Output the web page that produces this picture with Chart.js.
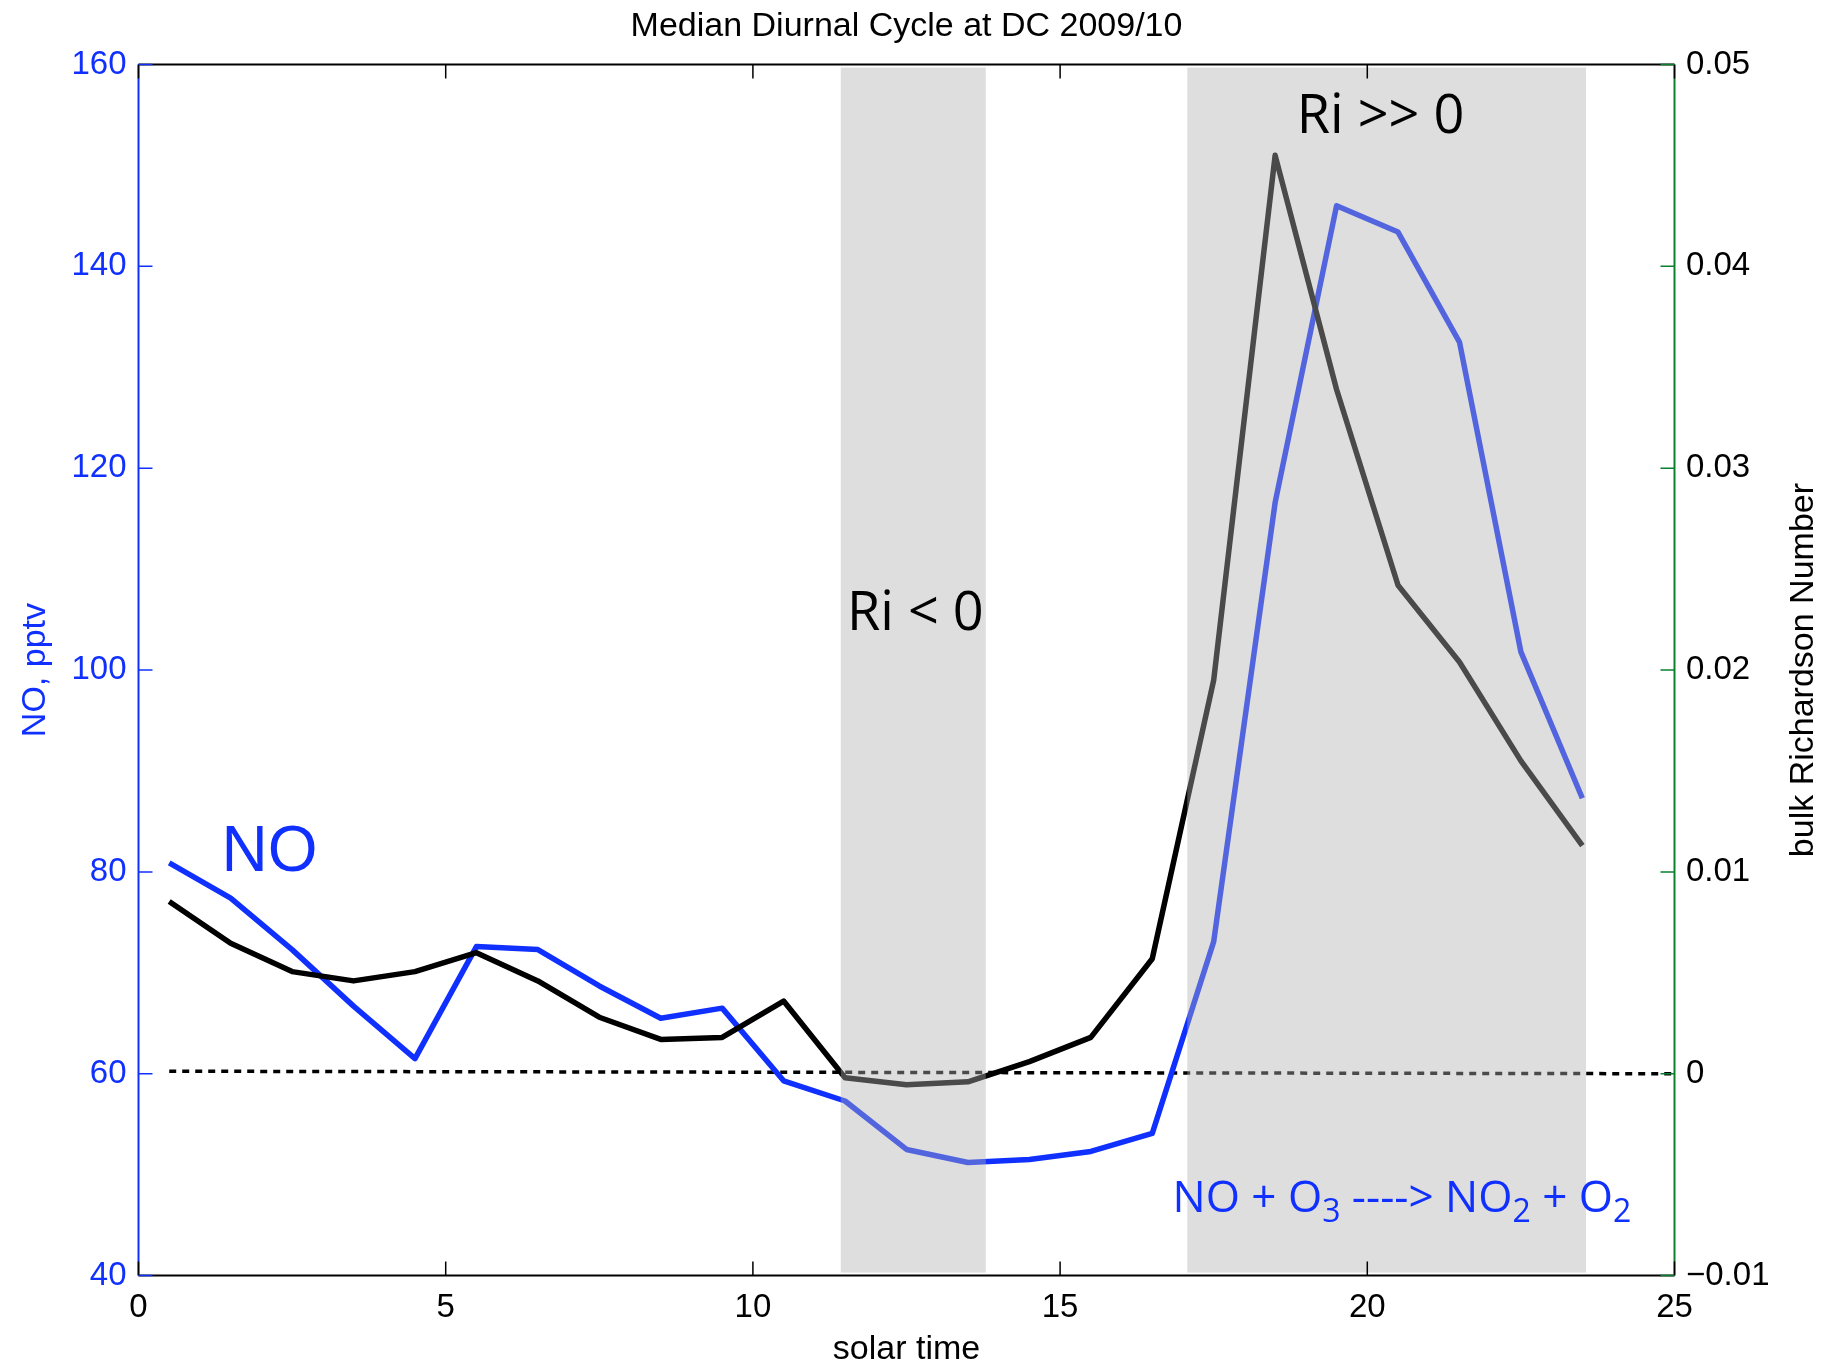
<!DOCTYPE html>
<html>
<head>
<meta charset="utf-8">
<title>Median Diurnal Cycle at DC 2009/10</title>
<script src="https://cdn.jsdelivr.net/npm/chart.js@4.4.1/dist/chart.umd.min.js"></script>
<style>
  html, body { margin: 0; padding: 0; background: #fff; }
  #wrap { width: 1840px; height: 1365px; }
</style>
</head>
<body>
<div id="wrap"><canvas id="diurnal" width="1840" height="1365"></canvas></div>
<script>
// solar hour (bin centres)
const hours = [0.5, 1.5, 2.5, 3.5, 4.5, 5.5, 6.5, 7.5, 8.5, 9.5, 10.5, 11.5,
               12.5, 13.5, 14.5, 15.5, 16.5, 17.5, 18.5, 19.5, 20.5, 21.5, 22.5, 23.5];
// median NO, pptv (left axis)
const noPptv = [80.9, 77.4, 72.3, 66.7, 61.5, 72.6, 72.3, 68.7, 65.5, 66.5, 59.3, 57.3,
                52.5, 51.2, 51.5, 52.3, 54.1, 73.1, 116.6, 146.0, 143.4, 132.5, 101.8, 87.3];
// median bulk Richardson number (right axis)
const richardson = [0.00853, 0.00647, 0.00506, 0.0046, 0.00506, 0.0060, 0.0046, 0.0028,
                    0.0017, 0.0018, 0.0036, -0.0002, -0.00055, -0.0004, 0.0006, 0.0018,
                    0.0057, 0.0195, 0.0455, 0.0339, 0.0242, 0.0204, 0.0155, 0.0113];
// Ri = 0 reference line (ends)
const zeroLineX = [0.5, 25];
const zeroLineY = [0.000125, 0];

// shaded periods (solar time) : Ri < 0 and Ri >> 0
const shadeSpans = [[11.43, 13.79], [17.07, 23.56]];

const xTicks = [0, 5, 10, 15, 20, 25];
const noTicks = [40, 60, 80, 100, 120, 140, 160];
const riTicks = [-0.01, 0, 0.01, 0.02, 0.03, 0.04, 0.05];

const BLUE = '#1030ff';
const GREEN = '#0a8030';
const SANS = "'Liberation Sans', Arial, Helvetica, sans-serif";
const HUMAN = "'Open Sans', 'Noto Sans', sans-serif";

const fmtRi = v => {
  if (Math.abs(v) < 1e-9) return '0';
  return (v < 0 ? '\u2212' : '') + Math.abs(v).toFixed(2);
};

// text labels placed in data units (x: solar time, y: NO axis)
const notes = [
  { parts: [['NO', 0]], x: 1.35, y: 80.1, size: 64, font: SANS, color: BLUE },
  { parts: [['Ri < 0', 0]], x: 11.53, y: 104.0, size: 54, font: HUMAN, color: '#000' },
  { parts: [['Ri >> 0', 0]], x: 18.85, y: 153.2, size: 54, font: HUMAN, color: '#000' },
  { parts: [['NO + O', 0], ['3', 1], [' ----> NO', 0], ['2', 1], [' + O', 0], ['2', 1]],
    x: 16.83, y: 46.3, size: 44, font: HUMAN, color: BLUE }
];

const frame = {
  id: 'frame',
  afterDatasetsDraw(chart) {
    const { ctx, chartArea: a, scales: { x, y, y1 } } = chart;
    ctx.save();

    // grey patches sit on top of the curves, as in the original
    ctx.fillStyle = 'rgba(176,176,176,0.42)';
    const yt = y.getPixelForValue(159.7), yb = y.getPixelForValue(40.3);
    shadeSpans.forEach(s => {
      const x0 = x.getPixelForValue(s[0]), x1 = x.getPixelForValue(s[1]);
      ctx.fillRect(x0, yt, x1 - x0, yb - yt);
    });

    // axis box
    ctx.lineWidth = 2;
    ctx.strokeStyle = '#000';
    ctx.beginPath();
    ctx.moveTo(a.left, a.top); ctx.lineTo(a.right, a.top);
    ctx.moveTo(a.left, a.bottom); ctx.lineTo(a.right, a.bottom);
    ctx.stroke();
    ctx.strokeStyle = BLUE;
    ctx.beginPath(); ctx.moveTo(a.left, a.top); ctx.lineTo(a.left, a.bottom); ctx.stroke();
    ctx.strokeStyle = GREEN;
    ctx.beginPath(); ctx.moveTo(a.right, a.top); ctx.lineTo(a.right, a.bottom); ctx.stroke();

    // inward ticks
    const tl = 14;
    ctx.lineWidth = 1.5;
    ctx.strokeStyle = '#000';
    ctx.beginPath();
    xTicks.forEach(t => {
      const px = x.getPixelForValue(t);
      ctx.moveTo(px, a.bottom); ctx.lineTo(px, a.bottom - tl);
      ctx.moveTo(px, a.top); ctx.lineTo(px, a.top + tl);
    });
    ctx.stroke();
    ctx.strokeStyle = BLUE;
    ctx.beginPath();
    noTicks.forEach(t => {
      const py = y.getPixelForValue(t);
      ctx.moveTo(a.left, py); ctx.lineTo(a.left + tl, py);
    });
    ctx.stroke();
    ctx.strokeStyle = GREEN;
    ctx.beginPath();
    riTicks.forEach(t => {
      const py = y1.getPixelForValue(t);
      ctx.moveTo(a.right, py); ctx.lineTo(a.right - tl, py);
    });
    ctx.stroke();

    // annotations
    ctx.textBaseline = 'alphabetic';
    ctx.textAlign = 'left';
    notes.forEach(n => {
      let px = x.getPixelForValue(n.x);
      const py = y.getPixelForValue(n.y);
      ctx.fillStyle = n.color;
      n.parts.forEach(([txt, sub]) => {
        const sz = sub ? Math.round(n.size * 0.72) : n.size;
        ctx.font = sz + 'px ' + n.font;
        ctx.fillText(txt, px, py + (sub ? n.size * 0.22 : 0));
        px += ctx.measureText(txt).width;
      });
    });

    // titles
    const midX = (a.left + a.right) / 2, midY = (a.top + a.bottom) / 2;
    ctx.fillStyle = '#000';
    ctx.textAlign = 'center';
    ctx.font = '34px ' + SANS;
    ctx.fillText('Median Diurnal Cycle at DC 2009/10', midX, 36);
    ctx.fillText('solar time', midX, 1359);

    ctx.save();
    ctx.translate(45, midY);
    ctx.rotate(-Math.PI / 2);
    ctx.fillStyle = BLUE;
    ctx.fillText('NO, pptv', 0, 0);
    ctx.restore();

    ctx.save();
    ctx.translate(1813, midY);
    ctx.rotate(-Math.PI / 2);
    ctx.fillStyle = '#000';
    ctx.fillText('bulk Richardson Number', 0, 0);
    ctx.restore();

    ctx.restore();
  }
};

const noPts = hours.map((h, i) => ({ x: h, y: noPptv[i] }));
const riPts = hours.map((h, i) => ({ x: h, y: richardson[i] }));
const zeroPts = zeroLineX.map((h, i) => ({ x: h, y: zeroLineY[i] }));

new Chart(document.getElementById('diurnal'), {
  type: 'line',
  data: {
    datasets: [
      { label: 'Ri', data: riPts, yAxisID: 'y1', borderColor: '#000', borderWidth: 5.5, order: 0 },
      { label: 'NO', data: noPts, yAxisID: 'y', borderColor: BLUE, borderWidth: 5.5, order: 1 },
      { label: 'Ri = 0', data: zeroPts, yAxisID: 'y1', borderColor: '#000', borderWidth: 3.5, borderDash: [7, 6], order: 2 }
    ]
  },
  options: {
    responsive: false,
    devicePixelRatio: 1,
    animation: false,
    layout: { padding: { top: 64.5, left: 0, right: 0, bottom: 0 } },
    elements: {
      point: { radius: 0 },
      line: { tension: 0, fill: false, borderJoinStyle: 'round', borderCapStyle: 'butt' }
    },
    plugins: { legend: { display: false }, tooltip: { enabled: false }, title: { display: false } },
    scales: {
      x: {
        type: 'linear', position: 'bottom', min: 0, max: 25,
        afterBuildTicks: s => { s.ticks = xTicks.map(v => ({ value: v })); },
        afterFit: s => { s.height = 89.4; },
        grid: { display: false, drawTicks: false },
        border: { display: false },
        ticks: { color: '#000', font: { family: SANS, size: 33 }, padding: 13, maxRotation: 0 }
      },
      y: {
        type: 'linear', position: 'left', min: 40, max: 160,
        afterBuildTicks: s => { s.ticks = noTicks.map(v => ({ value: v })); },
        afterFit: s => { s.width = 138.5; },
        grid: { display: false, drawTicks: false },
        border: { display: false },
        ticks: { color: BLUE, font: { family: SANS, size: 33 }, padding: 12 }
      },
      y1: {
        type: 'linear', position: 'right', min: -0.01, max: 0.05,
        afterBuildTicks: s => { s.ticks = riTicks.map(v => ({ value: v })); },
        afterFit: s => { s.width = 165.5; },
        grid: { display: false, drawTicks: false },
        border: { display: false },
        ticks: { color: '#000', font: { family: SANS, size: 33 }, padding: 11.5, callback: fmtRi }
      }
    }
  },
  plugins: [frame]
});
</script>
</body>
</html>
